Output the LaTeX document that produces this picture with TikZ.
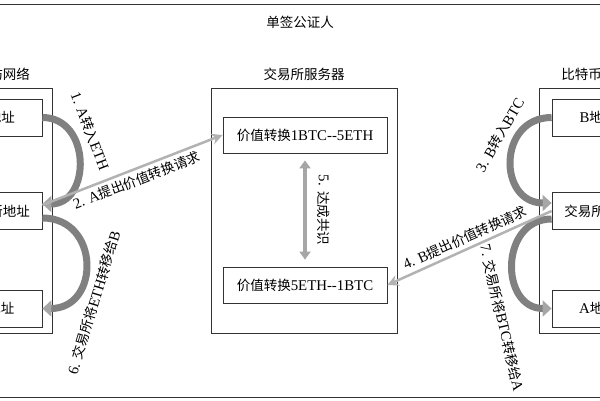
\documentclass[tikz,border=0pt]{standalone}
\usepackage{fontspec}
\setmainfont{Liberation Serif}[Scale=1.1]
\newfontfamily\cjk{Noto Sans CJK SC}
\usetikzlibrary{arrows.meta,positioning}
\newcommand{\zh}[1]{{\cjk #1}}

\begin{document}
\begin{tikzpicture}[x=1pt,y=-1pt,font=\fontsize{13.5}{16}\selectfont,
	line width=0.8pt]
	\tikzstyle{addr}=[draw=black!80,fill=white,minimum width=92pt,minimum height=37pt,inner sep=0pt]
	\tikzstyle{net}=[draw=black!80,minimum height=245pt]
	\tikzstyle{band}=[draw=black!50,line width=7pt,-{Triangle[width=16pt,length=9pt,color=black!35]}]
	\tikzstyle{req}=[draw=black!30,line width=2.5pt,-{Stealth[width=11pt,length=11pt]}]
	\tikzstyle{agree}=[draw=black!35,line width=4pt,{Triangle[width=11pt,length=8pt]}-{Triangle[width=11pt,length=8pt]},shorten >=7pt,shorten <=7pt]

	\useasboundingbox (0,0) rectangle (600,400);
	\draw[black!80] (-10,4) rectangle (610,397);
	\node (notary) at (300,22) {\zh{单签公证人}};

	% three frames
	\node[net,minimum width=112pt] (eth) at (-4,210.5) {};
	\node[net,minimum width=186pt] (server) at (304,210.5) {};
	\node[net,minimum width=112pt] (btc) at (595,210.5) {};
	\node[above=3pt of eth] (ethname) {\zh{以太坊网络}};
	\node[above=3pt of server] (servername) {\zh{交易所服务器}};
	\node[above=3pt of btc] (btcname) {\zh{比特币网络}};

	% addresses
	\node[addr] (ethA) at (-4,117.5) {A\zh{地址}};
	\node[addr] (ethX) at (-4,211) {\zh{交易所地址}};
	\node[addr] (ethB) at (-4,308.5) {B\zh{地址}};
	\node[addr] (btcB) at (598,117.5) {B\zh{地址}};
	\node[addr] (btcX) at (598,211) {\zh{交易所地址}};
	\node[addr] (btcA) at (598,308.5) {A\zh{地址}};

	% exchange rates
	\node[addr,minimum width=164pt,minimum height=36pt] (rateup) at (305,135) {\zh{价值转换}1BTC-{}-5ETH};
	\node[addr,minimum width=164pt,minimum height=36pt] (ratedown) at (305,285) {\zh{价值转换}5ETH-{}-1BTC};

	\draw[band] (ethA.east) .. controls +(49,0) and +(49,0) .. ([yshift=7pt]ethX.east);
	\draw[band] ([yshift=-7pt]ethX.east) .. controls +(58,0) and +(58,0) .. (ethB.east);
	\draw[band] (btcB.west) .. controls +(-54,0) and +(-54,0) .. ([yshift=8pt]btcX.west);
	\draw[band] ([yshift=-8pt]btcX.west) .. controls +(-52,0) and +(-52,0) .. (btcA.west);

	\draw[req] ([yshift=6pt]ethX.east) -- (rateup.west)
		node[midway,sloped,below] {2. A\zh{提出价值转换请求}};
	\draw[req] (btcX.west) -- (ratedown.east)
		node[midway,sloped,above] {4. B\zh{提出价值转换请求}};
	\draw[agree] (rateup) -- (ratedown);

	\node[rotate=-69] (step1) at (90,131) {1. A\zh{转入}ETH};
	\node[rotate=60] (step3) at (500,135) {3. B\zh{转入}BTC};
	\node[rotate=-90] (step5) at (324,210) {5. \zh{达成共识}};
	\node[rotate=73] (step6) at (94,303) {6. \zh{交易所将}ETH\zh{转移给}B};
	\node[rotate=-77] (step7) at (502,318) {7. \zh{交易所将}BTC\zh{转移给}A};
\end{tikzpicture}
\end{document}
